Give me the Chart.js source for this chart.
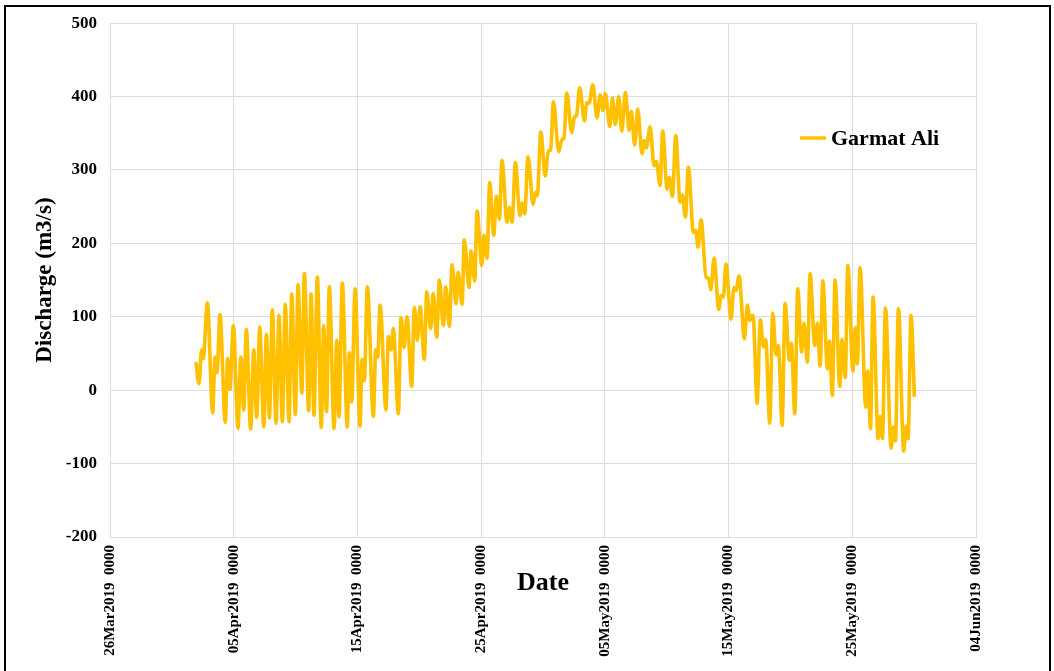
<!DOCTYPE html>
<html>
<head>
    <title>Garmat Ali Discharge</title>
    <script src="https://cdn.jsdelivr.net/npm/chart.js"></script>
    <style>
        body { margin: 0; overflow: hidden; background: #fff; }
        #wrap { position: relative; width: 1054px; height: 671px; }
        #frame { position: absolute; left: 4px; top: 5px; width: 1043px; height: 700px; border: 2px solid #000; pointer-events: none; }
    </style>
</head>
<body>
<div id="wrap">
    <canvas id="dischargeChart"></canvas>
    <div id="frame"></div>
</div>
<script>
    // x values are days since 26Mar2019 0000
    const tickLabels = ['26Mar2019  0000', '05Apr2019  0000', '15Apr2019  0000', '25Apr2019  0000',
        '05May2019  0000', '15May2019  0000', '25May2019  0000', '04Jun2019  0000'];

    const days = [
        6.95, 7.19, 7.41, 7.54, 7.87, 8.30, 8.49, 8.65, 8.89, 9.32, 9.51, 9.70, 9.97, 10.35, 10.57, 10.81,
        11.02, 11.37, 11.62, 11.86, 12.10, 12.43, 12.64, 12.88, 13.12, 13.42, 13.66, 13.93, 14.17, 14.47,
        14.69, 14.98, 15.20, 15.50, 15.71, 16.06, 16.25, 16.49, 16.76, 17.08, 17.27, 17.50, 17.73, 18.11,
        18.33, 18.51, 18.78, 19.18, 19.35, 19.54, 19.81, 20.21, 20.37, 20.56, 20.80, 21.29, 21.48, 21.64,
        21.83, 22.31, 22.50, 22.72, 22.90, 23.31, 23.52, 23.77, 24.01, 24.39, 24.60, 24.84, 25.06, 25.41,
        25.60, 25.92, 26.12, 26.41, 26.62, 26.95, 27.14, 27.43, 27.65, 27.97, 28.13, 28.46, 28.64, 29.02,
        29.18, 29.48, 29.67, 30.05, 30.23, 30.48, 30.69, 31.02, 31.23, 31.47, 31.69, 32.09, 32.28, 32.50,
        32.77, 33.14, 33.31, 33.52, 33.79, 34.20, 34.41, 34.54, 34.82, 35.18, 35.43, 35.62, 35.84, 36.27,
        36.54, 36.70, 36.92, 37.32, 37.54, 37.70, 37.97, 38.35, 38.54, 38.72, 39.02, 39.37, 39.61, 39.86,
        40.04, 40.40, 40.61, 40.85, 41.12, 41.37, 41.66, 41.96, 42.14, 42.41, 42.66, 43.00, 43.19, 43.35,
        43.65, 43.98, 44.17, 44.46, 44.68, 45.03, 45.22, 45.46, 45.73, 46.08, 46.27, 46.51, 46.75, 47.16,
        47.35, 47.53, 47.78, 48.18, 48.37, 48.56, 48.83, 49.21, 49.39, 49.58, 49.79, 50.20, 50.44, 50.60,
        50.85, 51.28, 51.52, 51.71, 51.90, 52.03, 52.31, 52.57, 52.81, 53.00, 53.33, 53.57, 53.84, 54.03,
        54.33, 54.57, 54.92, 55.08, 55.35, 55.59, 55.91, 56.10, 56.37, 56.59, 56.97, 57.18, 57.40, 57.62,
        57.99, 58.15, 58.39, 58.61, 58.99, 59.17, 59.43, 59.64, 60.05, 60.24, 60.41, 60.63, 61.09, 61.25,
        61.47, 61.68, 62.09, 62.25, 62.44, 62.68, 63.14, 63.33, 63.49, 63.73, 64.16, 64.35, 64.51, 64.75,
        65.02
    ];

    const discharge = [
        38, 9, 55, 43, 119, -31, 45, 24, 103, -44, 43, 1, 88, -52, 45, -27,
        83, -53, 55, -37, 86, -50, 76, -38, 110, -45, 102, -43, 117, -43,
        131, -33, 144, -4, 159, -28, 131, -34, 154, -51, 88, -29, 141, -52,
        68, -36, 146, -50, 51, -16, 138, -49, 42, 13, 141, -36, 55, 45,
        116, -27, 73, 55, 84, -32, 99, 58, 100, 5, 113, 68, 114, 42,
        134, 84, 132, 72, 150, 88, 141, 87, 171, 118, 161, 117, 205, 140,
        190, 149, 244, 170, 211, 180, 283, 211, 264, 233, 313, 229, 249, 229,
        310, 238, 255, 240, 318, 253, 270, 265, 352, 292, 326, 327, 393, 325,
        342, 343, 405, 351, 372, 374, 412, 367, 392, 391, 416, 371, 402, 381,
        404, 359, 398, 362, 400, 353, 406, 354, 380, 334, 383, 322, 340, 330,
        359, 306, 312, 279, 353, 274, 290, 264, 347, 256, 266, 236, 304, 215,
        218, 195, 232, 154, 153, 137, 180, 110, 129, 127, 172, 97, 140, 136,
        156, 70, 116, 95, 102, 93, -18, 96, 59, 69, -45, 105, 48, 61,
        -48, 118, 41, 64, -32, 138, 52, 91, 38, 159, 61, 91, 33, 149,
        29, 67, -7, 150, 5, 69, 17, 170, 26, 85, 36, 167, -23, 26,
        -52, 127, -66, -36, -66, 112, -79, -50, -69, 111, -83, -49, -66, 102,
        -9
    ];

    const serif = "'Liberation Serif', 'Times New Roman', serif";
    const lineColor = '#FFC000';
    const gridColor = '#dcdcdc';

    const insideLegend = {
        id: 'insideLegend',
        afterDraw(chart) {
            const ctx = chart.ctx;
            const ds = chart.data.datasets[0];
            ctx.save();
            ctx.strokeStyle = ds.borderColor;
            ctx.lineWidth = 3.5;
            ctx.beginPath();
            ctx.moveTo(800, 138);
            ctx.lineTo(826, 138);
            ctx.stroke();
            ctx.fillStyle = '#000';
            ctx.font = 'bold 22px ' + serif;
            ctx.textBaseline = 'middle';
            ctx.fillText(ds.label, 831, 139);
            ctx.restore();
        }
    };

    const points = days.map((d, i) => ({ x: d, y: discharge[i] }));

    new Chart(document.getElementById('dischargeChart'), {
        type: 'line',
        data: {
            datasets: [{
                label: 'Garmat Ali',
                data: points,
                borderColor: lineColor,
                borderWidth: 3.6,
                pointRadius: 0,
                fill: false,
                cubicInterpolationMode: 'monotone'
            }]
        },
        options: {
            responsive: true,
            maintainAspectRatio: false,
            animation: false,
            layout: { padding: { top: 22, right: 78, left: 0, bottom: 0 } },
            plugins: {
                legend: { display: false },
                tooltip: { enabled: false }
            },
            scales: {
                x: {
                    type: 'linear',
                    min: 0,
                    max: 70,
                    afterFit: s => { s.height = 134; },
                    ticks: {
                        stepSize: 10,
                        autoSkip: false,
                        minRotation: 90,
                        maxRotation: 90,
                        padding: 8,
                        color: '#000',
                        font: { family: serif, size: 15, weight: 'bold' },
                        callback: v => tickLabels[Math.round(v / 10)]
                    },
                    grid: { color: gridColor, drawTicks: false },
                    border: { color: gridColor },
                    title: {
                        display: true,
                        text: 'Date',
                        color: '#000',
                        font: { family: serif, size: 26, weight: 'bold' },
                        padding: { top: 0, bottom: 72 }
                    }
                },
                y: {
                    min: -200,
                    max: 500,
                    afterFit: s => { s.width = 110; },
                    ticks: {
                        stepSize: 100,
                        padding: 13,
                        color: '#000',
                        font: { family: serif, size: 17, weight: 'bold' }
                    },
                    grid: { color: gridColor, drawTicks: false },
                    border: { color: gridColor },
                    title: {
                        display: true,
                        text: 'Discharge (m3/s)',
                        color: '#000',
                        font: { family: serif, size: 23, weight: 'bold' },
                        padding: { top: 31, bottom: 0 }
                    }
                }
            }
        },
        plugins: [insideLegend]
    });
</script>
</body>
</html>
